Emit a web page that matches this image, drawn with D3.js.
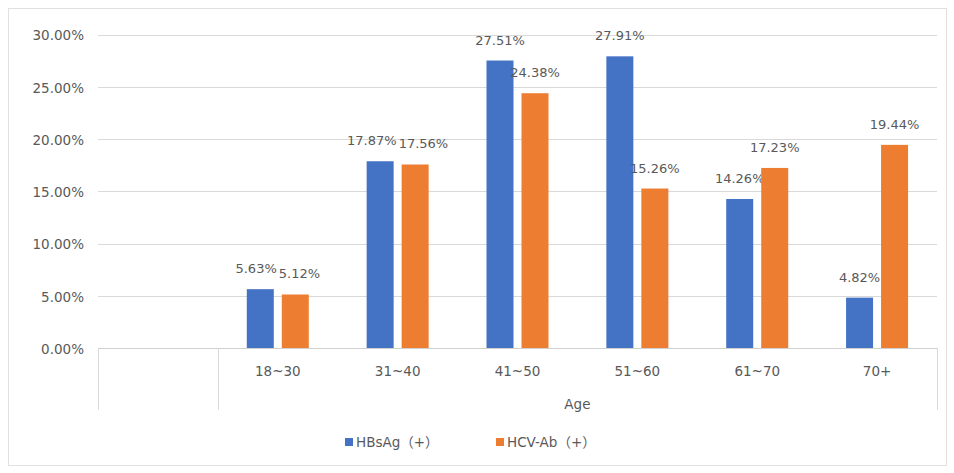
<!DOCTYPE html>
<html><head><meta charset="utf-8">
<script src="https://cdn.jsdelivr.net/npm/d3@7"></script>
<style>body{margin:0;background:#fff}svg{display:block}text{font-family:"DejaVu Sans","Noto Sans CJK SC",sans-serif}</style>
</head><body><svg id="c" width="954" height="473"></svg>
<script>
const categories = ["", "18~30", "31~40", "41~50", "51~60", "61~70", "70+"];
const groupLabel = "Age";
const seriesNames = ["HBsAg（+）", "HCV-Ab（+）"];
const hbsag = [null, 5.63, 17.87, 27.51, 27.91, 14.26, 4.82];
const hcvab = [null, 5.12, 17.56, 24.38, 15.26, 17.23, 19.44];
const yTicks = [0, 5, 10, 15, 20, 25, 30];
const colors = ["#4472C4", "#ED7D31"];

const svg = d3.select("#c");
svg.append("rect").attr("x",8.5).attr("y",8.5).attr("width",938).attr("height",457)
  .attr("fill","#fff").attr("stroke","#e0e0e0");

const pLeft = 98, pRight = 937, pTop = 34.5, pBottom = 348;
const x = d3.scaleBand().domain(categories.map((d,i)=>i)).range([pLeft,pRight]).paddingInner(0).paddingOuter(0);
const y = d3.scaleLinear().domain([0,30]).range([pBottom, pTop]);
const sub = d3.scaleBand().domain([0,1]).range([0, 62]).paddingInner(8/35);

// gridlines
svg.append("g").selectAll("line").data(yTicks.filter(t=>t>0)).join("line")
  .attr("x1",pLeft).attr("x2",pRight).attr("y1",d=>Math.round(y(d))+0.5).attr("y2",d=>Math.round(y(d))+0.5)
  .attr("stroke","#d9d9d9").attr("stroke-width",1);

// y axis labels
const yAxis = d3.axisLeft(y).tickValues(yTicks).tickSize(0).tickPadding(0).tickFormat(d=>d3.format(".2f")(d)+"%");
const ya = svg.append("g").attr("transform",`translate(84,1)`).call(yAxis);
ya.select(".domain").remove();
ya.selectAll("text").attr("fill","#595959").attr("font-size",13.5);

// bars
const series = [hbsag, hcvab];
const labelSel = [];
series.forEach((vals, si) => {
  const g = svg.append("g");
  const data = vals.map((v,i)=>({v,i,si})).filter(d=>d.v!=null);
  const bx = d => x(d.i) + x.bandwidth()/2 - 31 + sub(si);
  g.selectAll("rect").data(data).join("rect")
    .attr("x", bx).attr("width", sub.bandwidth())
    .attr("y", d=>y(d.v)).attr("height", d=>pBottom - y(d.v))
    .attr("fill", colors[si]);
  const t = g.selectAll("text").data(data).join("text")
    .attr("x", d=>bx(d)+sub.bandwidth()/2).attr("y", d=>y(d.v)-16)
    .attr("text-anchor","middle").attr("font-size",13).attr("fill","#595959")
    .text(d=>d3.format(".2f")(d.v)+"%");
  labelSel.push(t);
});
// nudge labels of a category apart when they would collide
const lab0 = labelSel[0].nodes(), lab1 = labelSel[1].nodes();
lab0.forEach((n0, k) => {
  const n1 = lab1[k];
  const b0 = n0.getBBox(), b1 = n1.getBBox();
  const vOverlap = Math.abs(b0.y - b1.y) < b0.height;
  const hOverlap = b0.x + b0.width + 2 - b1.x;
  if (vOverlap && hOverlap > 0) {
    const s = hOverlap / 2;
    d3.select(n0).attr("x", +n0.getAttribute("x") - s);
    d3.select(n1).attr("x", +n1.getAttribute("x") + s);
  }
});

// x axis baseline
svg.append("line").attr("x1",pLeft).attr("x2",pRight).attr("y1",pBottom+0.5).attr("y2",pBottom+0.5).attr("stroke","#d0d0d0");

// category labels
const xAxis = d3.axisBottom(x).tickSize(0).tickPadding(0).tickFormat(i=>categories[i]);
const xa = svg.append("g").attr("transform",`translate(0,${pBottom+18})`).call(xAxis);
xa.select(".domain").remove();
xa.selectAll("text").attr("fill","#595959").attr("font-size",13.5);

// multi-level separators
const seps = [pLeft, x(1), pRight];
svg.append("g").selectAll("line").data(seps).join("line")
  .attr("x1",d=>Math.round(d)+0.5).attr("x2",d=>Math.round(d)+0.5)
  .attr("y1",pBottom).attr("y2",410).attr("stroke","#d9d9d9");

// group label
svg.append("text").attr("x",(x(1)+pRight)/2).attr("y",409).attr("text-anchor","middle")
  .attr("font-size",13.5).attr("fill","#595959").text(groupLabel);

// legend
const legX = [345, 496];
const lg = svg.append("g");
seriesNames.forEach((n,i)=>{
  lg.append("rect").attr("x",legX[i]).attr("y",438).attr("width",8).attr("height",8).attr("fill",colors[i]);
  lg.append("text").attr("x",legX[i]+11).attr("y",447).attr("font-size",13.5).attr("fill","#595959").text(n);
});
</script></body></html>
